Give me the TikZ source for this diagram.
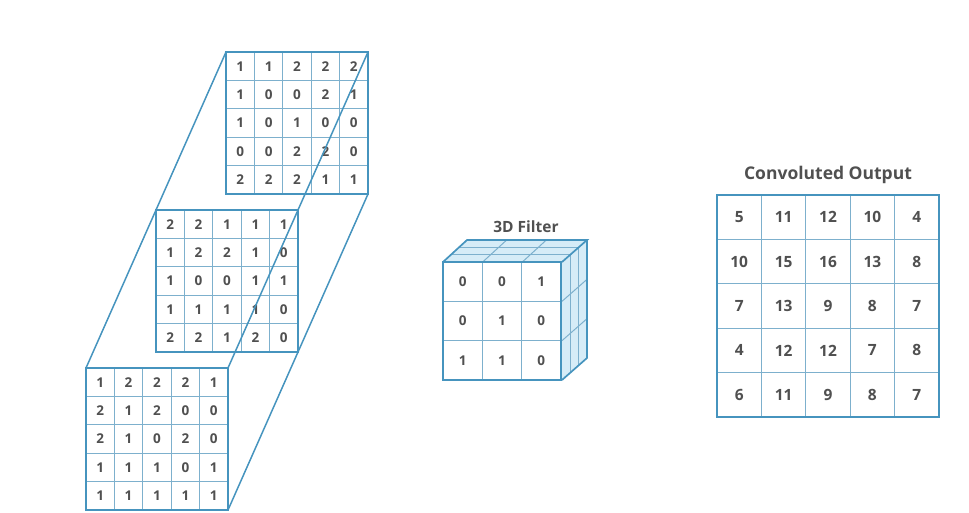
\documentclass[tikz,border=0pt]{standalone}
\usepackage{fontspec}
\setmainfont{Open Sans}
\definecolor{edge}{RGB}{70,148,190}
\definecolor{cellline}{RGB}{125,176,205}
\definecolor{face}{RGB}{214,236,247}
\definecolor{txt}{RGB}{80,80,80}
\tikzset{
  num/.style={text=txt,font=\fontsize{13.5}{13.5}\selectfont\bfseries,inner sep=0pt},
  bignum/.style={text=txt,font=\fontsize{15.5}{15.5}\selectfont\bfseries,inner sep=0pt},
  ttl/.style={text=txt,font=\fontsize{17.5}{17.5}\selectfont\bfseries,inner sep=0pt},
  outer/.style={draw=edge,line width=1.7pt},
  inner/.style={draw=cellline,line width=1pt},
  link/.style={draw=edge,line width=1.5pt},
}
% name, x0, y0, size, n, style, rows
\newcommand{\numgrid}[7]{%
  \fill[white] (#2,#3) rectangle ++(#4,#4);
  \pgfmathsetmacro{\cs}{#4/#5}
  \foreach \k in {1,...,\numexpr#5-1\relax}{
    \draw[inner] (#2+\k*\cs,#3) -- ++(0,#4);
    \draw[inner] (#2,#3+\k*\cs) -- ++(#4,0);
  }
  \draw[outer] (#2,#3) rectangle ++(#4,#4);
  \foreach \row [count=\r] in {#7}{
    \foreach \v [count=\c] in \row {
      \node[#6] (#1-\r-\c) at (#2+\c*\cs-0.5*\cs,#3+\r*\cs-0.5*\cs) {\v};
    }
  }
}
\begin{document}
\begin{tikzpicture}[x=1pt,y=-1pt]
\useasboundingbox (0,0) rectangle (969,512);
% input volume
\numgrid{top}{226}{52}{142}{5}{num}{{1,1,2,2,2},{1,0,0,2,1},{1,0,1,0,0},{0,0,2,2,0},{2,2,2,1,1}}
\numgrid{mid}{156}{210}{142}{5}{num}{{2,2,1,1,1},{1,2,2,1,0},{1,0,0,1,1},{1,1,1,1,0},{2,2,1,2,0}}
\coordinate (tl) at (226,52);
\coordinate (tr) at (368,52);
\coordinate (br) at (368,194);
\coordinate (ftl) at (86,368);
\coordinate (ftr) at (228,368);
\coordinate (fbr) at (228,510);
\draw[link] (tl) -- (ftl);
\draw[link] (tr) -- (ftr);
\draw[link] (br) -- (fbr);
\numgrid{bot}{86}{368}{142}{5}{num}{{1,2,2,2,1},{2,1,2,0,0},{2,1,0,2,0},{1,1,1,0,1},{1,1,1,1,1}}
% 3D filter
\fill[face] (443,262) -- (467,240) -- (587,240) -- (562,262) -- cycle;
\fill[face] (562,262) -- (587,240) -- (587,358) -- (562,380) -- cycle;
\foreach \k in {1,2}{
  \draw[inner] (443+\k*39.67,262) -- ++(24,-22);
  \draw[inner] (443+8*\k,262-7.33*\k) -- ++(119,0);
  \draw[inner] (562,262+\k*39.33) -- ++(25,-22);
  \draw[inner] (562+8*\k,262-7.33*\k) -- ++(0,118);
}
\draw[outer] (443,262) -- (467,240) -- (587,240) -- (562,262);
\draw[outer] (587,240) -- (587,358) -- (562,380);
\numgrid{filt}{443}{262}{118}{3}{num}{{0,0,1},{0,1,0},{1,1,0}}
\node[ttl,font=\fontsize{15.5}{15.5}\selectfont\bfseries] (ftitle) at (526,227) {3D Filter};
% output
\node[ttl] (otitle) at (828,175) {Convoluted Output};
\numgrid{out}{717}{195}{222}{5}{bignum}{{5,11,12,10,4},{10,15,16,13,8},{7,13,9,8,7},{4,12,12,7,8},{6,11,9,8,7}}
\end{tikzpicture}
\end{document}
